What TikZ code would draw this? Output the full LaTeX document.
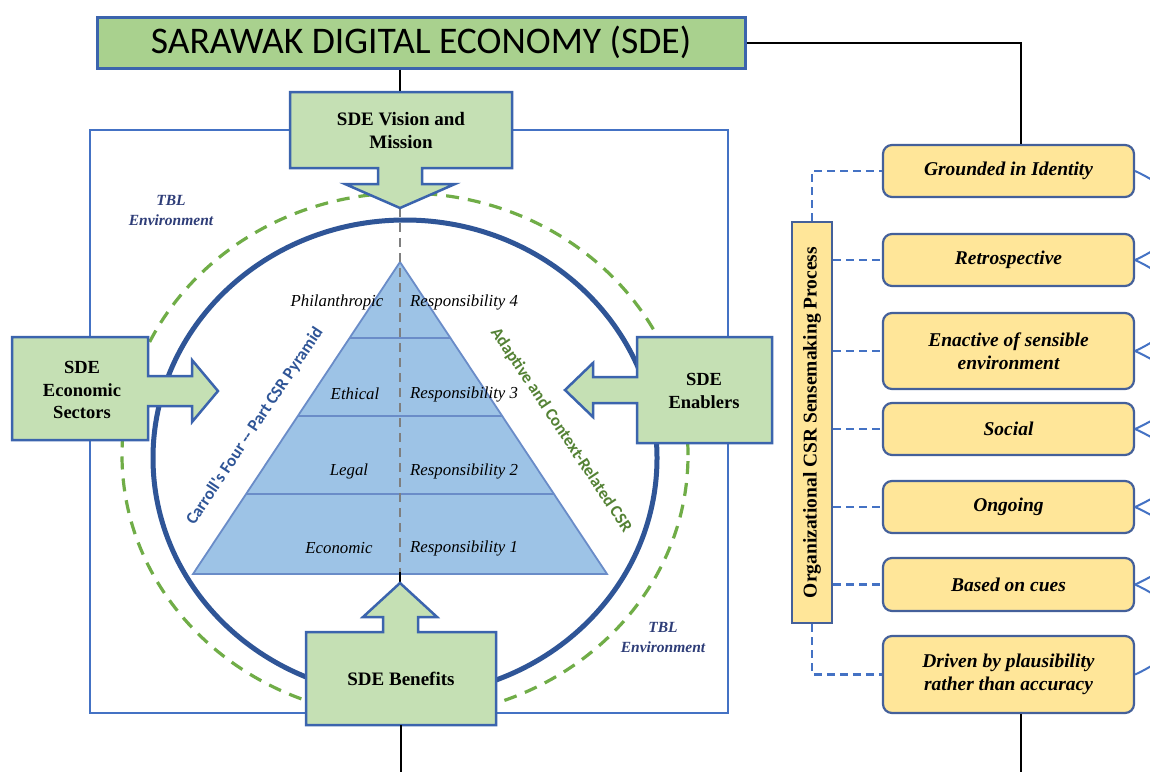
\documentclass[tikz,border=0pt]{standalone}
\usepackage{fontspec}
\usepackage{graphicx}
\setmainfont{Liberation Serif}
\newfontfamily\calib{Carlito}
\usetikzlibrary{arrows.meta}
\definecolor{gfill}{HTML}{C5E0B4}
\definecolor{tfill}{HTML}{A9D18E}
\definecolor{bord}{HTML}{3B64AD}
\definecolor{outerc}{HTML}{4472C4}
\definecolor{ring}{HTML}{2F5597}
\definecolor{gdash}{HTML}{70AD47}
\definecolor{pyr}{HTML}{9DC3E6}
\definecolor{pyrb}{HTML}{6A8CC8}
\definecolor{yfill}{HTML}{FFE699}
\definecolor{ybord}{HTML}{44609A}
\definecolor{navy}{HTML}{2E3D78}
\definecolor{cgreen}{HTML}{548235}
\definecolor{greyd}{HTML}{7F7F7F}
\tikzset{
  gshape/.style={fill=gfill, draw=bord, line width=2.5pt, line join=miter},
  gtext/.style={font=\bfseries\fontsize{19}{23}\selectfont, align=center, inner sep=0pt},
  ptext/.style={font=\itshape\fontsize{16.8}{19}\selectfont, inner sep=0pt},
  item/.style={rectangle, rounded corners=9pt, fill=yfill, draw=ybord, line width=2.2pt,
    minimum width=251pt, align=center, font=\bfseries\itshape\fontsize{19.5}{23}\selectfont},
  dashline/.style={draw=outerc, line width=2.6pt, dash pattern=on 8pt off 5pt},
  blk/.style={draw=black, line width=2pt},
  curv/.style={draw=outerc, line width=2pt},
  tbl/.style={font=\bfseries\itshape\fontsize{15.5}{20}\selectfont, text=navy, align=center, inner sep=0pt}
}
\begin{document}
\begin{tikzpicture}[x=1pt,y=-1pt]
\useasboundingbox (0,0) rectangle (1150,772);
\clip (0,0) rectangle (1150,772);
\fill[white] (0,0) rectangle (1150,772);

% outer frame
\draw[outerc, line width=2pt] (90,130) rectangle (728,713);

% green dashed ellipse
\draw[gdash, line width=3.2pt, dash pattern=on 13pt off 9pt] (405,455) ellipse [x radius=283pt, y radius=262pt];
% dark ring
\draw[ring, line width=5pt] (405,458) ellipse [x radius=252pt, y radius=238pt];

% pyramid
\coordinate (apex) at (400,262);
\coordinate (bl) at (193,574);
\coordinate (br) at (607,574);
\fill[pyr] (apex) -- (bl) -- (br) -- cycle;
\begin{scope}
  \clip (apex) -- (bl) -- (br) -- cycle;
  \foreach \yy in {338,416,494} \draw[pyrb, line width=1.5pt] (150,\yy) -- (650,\yy);
\end{scope}
\draw[pyrb, line width=1.8pt, line join=miter] (apex) -- (bl) -- (br) -- cycle;

% grey dashed axis
\coordinate (vtip) at (400,208);
\coordinate (btip) at (400,583);
\draw[greyd, line width=2pt, dash pattern=on 9pt off 6pt] (vtip) -- (400,574);
\draw[blk] (400,572) -- (btip);

% pyramid labels
\node[ptext] (phil) at (337,302) {Philanthropic};
\node[ptext] (eth) at (355,394) {Ethical};
\node[ptext] (leg) at (349,471) {Legal};
\node[ptext] (eco) at (339,548) {Economic};
\node[ptext, anchor=west] (r4) at (410,302) {Responsibility 4};
\node[ptext, anchor=west] (r3) at (410,394) {Responsibility 3};
\node[ptext, anchor=west] (r2) at (410,471) {Responsibility 2};
\node[ptext, anchor=west] (r1) at (410,548) {Responsibility 1};

\node[font=\calib\bfseries\fontsize{17}{20}\selectfont, text=ring, rotate=56.4, inner sep=0pt] (carroll) at (255,426) {Carroll's Four -- Part CSR Pyramid};
\node[font=\calib\bfseries\fontsize{17}{20}\selectfont, text=cgreen, rotate=-56.4, inner sep=0pt] (adapt) at (561,430) {Adaptive and Context-Related CSR};

% TBL labels
\node[tbl] (tbl1) at (171,210) {TBL\\Environment};
\node[tbl] (tbl2) at (663,637) {TBL\\Environment};

% title
\node[rectangle, fill=tfill, draw=bord, line width=3pt, minimum width=648pt, minimum height=51pt,
      font=\calib\fontsize{37.6}{44}\selectfont, inner sep=0pt] (title) at (421,42.5) {SARAWAK DIGITAL ECONOMY (SDE)};

% vision + arrow
\coordinate (vtop) at (400,92);
\draw[blk] (title.south -| vtop) -- (vtop);
\path[gshape] (290,92) -- (512,92) -- (512,168) -- (422,168) -- (422,184) -- (455,184) -- (vtip)
   -- (345,184) -- (378,184) -- (378,168) -- (290,168) -- cycle;
\node[gtext] (vision) at (401,130) {SDE Vision and\\Mission};

% economic sectors
\path[gshape] (12,337) -- (148,337) -- (148,376) -- (192,376) -- (192,360) -- (218,391) -- (192,422)
   -- (192,406) -- (148,406) -- (148,440) -- (12,440) -- cycle;
\node[gtext, font=\bfseries\fontsize{18.5}{22.5}\selectfont] (econ) at (82,390) {SDE\\Economic\\Sectors};

% enablers
\path[gshape] (637,337) -- (772,337) -- (772,443) -- (637,443) -- (637,403) -- (593,403) -- (593,417)
   -- (565,390) -- (593,363) -- (593,377) -- (637,377) -- cycle;
\node[gtext, font=\bfseries\fontsize{18.5}{22.5}\selectfont] (enab) at (704,391) {SDE\\Enablers};

% benefits
\path[gshape] (306,632) -- (383,632) -- (383,617) -- (363,617) -- (btip) -- (437,617) -- (418,617)
   -- (418,632) -- (496,632) -- (496,725) -- (306,725) -- cycle;
\node[gtext] (benef) at (401,679) {SDE Benefits};
\coordinate (bbot) at (401,725);
\coordinate (bend) at (401,772);
\draw[blk] (bbot) -- (bend);

% right column
\node[rectangle, fill=yfill, draw=ybord, line width=2.5pt, minimum width=40pt, minimum height=401pt, inner sep=0pt] (col) at (812,422.5) {};
\node[font=\bfseries\fontsize{19.5}{22}\selectfont, rotate=90, inner sep=0pt] (coltext) at (col.center) {Organizational CSR Sensemaking Process};

\node[item, minimum height=52pt] (i1) at (1008.5,171) {Grounded in Identity};
\node[item, minimum height=52pt] (i2) at (1008.5,260) {Retrospective};
\node[item, minimum height=76pt] (i3) at (1008.5,351) {Enactive of sensible\\environment};
\node[item, minimum height=52pt] (i4) at (1008.5,429) {Social};
\node[item, minimum height=52pt] (i5) at (1008.5,507) {Ongoing};
\node[item, minimum height=53pt] (i6) at (1008.5,584.5) {Based on cues};
\node[item, minimum height=77pt] (i7) at (1008.5,674.5) {Driven by plausibility\\rather than accuracy};

\draw[dashline] (col.north) |- (i1.west);
\foreach \n in {i2,i3,i4,i5,i6} \draw[dashline] (col.east |- \n.west) -- (\n.west);
\draw[dashline] (col.south) |- (i7.west);

% black connectors
\draw[blk] (title.east) -| ([xshift=12pt]i1.north);
\coordinate (rend) at (1020.5,772);
\draw[blk] ([xshift=12pt]i7.south) -- (rend);

% right-edge curves (running off the picture)
\foreach \a/\b in {i1/i2,i2/i3,i3/i4,i4/i5,i5/i6,i6/i7}
  \draw[curv] (\a.east) .. controls +(60,28) and +(60,-28) .. (\b.east);
\end{tikzpicture}
\end{document}
